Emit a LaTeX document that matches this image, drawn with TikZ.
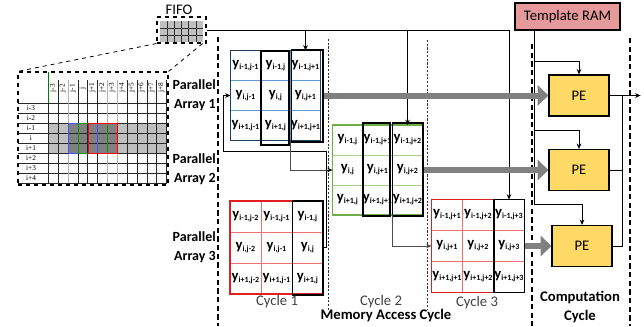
\documentclass[tikz,border=0pt]{standalone}
\usepackage{fontspec}
\setmainfont{Carlito}
\newfontfamily\tblfont{Liberation Serif}
\usepackage{xcolor}
\usepackage{tikz}
\usetikzlibrary{arrows.meta, positioning, calc}
\definecolor{ramred}{HTML}{E6999A}
\definecolor{peyellow}{HTML}{FFD966}
\definecolor{blueline}{HTML}{5B9BD5}
\definecolor{bluedark}{HTML}{1F3F5F}
\definecolor{greenline}{HTML}{A9D18E}
\definecolor{greendark}{HTML}{70AD47}
\definecolor{redline}{HTML}{EE7070}
\definecolor{reddark}{HTML}{E02020}
\newcommand{\ylab}[1]{\makebox[18pt][c]{{\fontsize{11}{11}\selectfont y}{\fontsize{6}{6}\selectfont\raisebox{-0.5ex}{#1}}}}
\tikzstyle{cellA} = [rectangle, draw=blueline, line width=0.5pt, inner sep=0pt, outer sep=0pt, minimum width=22.5pt, minimum height=22.5pt, font=\bfseries]
\tikzstyle{cellB} = [cellA, draw=greenline]
\tikzstyle{cellC} = [cellA, draw=redline, minimum width=23.25pt, minimum height=23.25pt]
\tikzstyle{window} = [draw=black, line width=0.9pt]
\tikzstyle{wire} = [draw=black, line width=0.75pt]
\tikzstyle{graywire} = [draw=gray!60!black, line width=0.75pt]
\tikzstyle{tip} = [-{Stealth[length=4pt,width=3.5pt]}]
\tikzstyle{fatarrow} = [draw=gray, line width=4.5pt, -{Triangle[length=8pt,width=15pt]}]
\tikzstyle{phaseline} = [draw=black, line width=1.1pt, dash pattern=on 4pt off 2.5pt]
\tikzstyle{cycleline} = [draw=black!80, line width=0.6pt, dash pattern=on 1.6pt off 1.2pt]
\tikzstyle{pebox} = [rectangle, draw=black, line width=0.9pt, fill=peyellow, minimum width=45pt, minimum height=30.75pt, font=\fontsize{11}{11}\selectfont]
\tikzstyle{rambox} = [rectangle, draw=black, line width=0.9pt, fill=ramred, minimum width=78.75pt, minimum height=20.25pt, font=\fontsize{11}{11}\selectfont]
\tikzstyle{arrlbl} = [anchor=east, align=right, inner sep=0pt, font=\fontsize{10.5}{14}\selectfont\bfseries]
\tikzstyle{cyclbl} = [font=\fontsize{11}{11}\selectfont, text=black!75]
\tikzstyle{rowlbl} = [inner sep=0pt, font=\tblfont\fontsize{5.5}{5.5}\selectfont]
\tikzstyle{collbl} = [rowlbl, rotate=90]
\tikzstyle{tblline} = [draw=black!85, line width=0.35pt]

\begin{document}
\begin{tikzpicture}[x=0.75pt, y=-0.75pt]
    \useasboundingbox (0,0) rectangle (644,326);

    % FIFO and the zoomed frame buffer
    \node[draw, dashed, line width=0.8pt, minimum width=36.75pt, minimum height=19.5pt, inner sep=0pt] (fifo) at (181.5,30) {};
    \node[font=\fontsize{11}{11}\selectfont] (fifolbl) at (179,10) {FIFO};
    \fill[gray!50] (160,21) rectangle (203,42);
    \foreach \i in {1,...,5}
        \draw[gray!40!black, line width=0.3pt] ({160+7.17*\i},21) -- ({160+7.17*\i},42);
    \draw[gray!40!black, line width=0.3pt] (160,28) -- (203,28) (160,35) -- (203,35);

    \node[draw, dashed, line width=0.8pt, minimum width=112.5pt, minimum height=84.75pt, inner sep=0pt] (tbl) at (93,128.5) {};
    \draw[dashed, line width=0.6pt] (fifo.south west) -- (tbl.north west);
    \draw[dashed, line width=0.6pt] ($(fifo.south east)+(-4,0)$) -- (tbl.north east);

    \fill[gray!50] (48.3,123) rectangle (166.5,153);
    \fill[gray] (68.3,123) rectangle (117.5,153);
    \foreach \y in {103,113,...,183}
        \draw[tblline] (18,\y) -- (166.5,\y);
    \foreach \k in {0,...,12}
        \draw[tblline] ({48.3+9.85*\k},80) -- ({48.3+9.85*\k},183);
    \draw[gray!60, line width=1pt] (68.3,80) -- (68.3,183) (107.7,80) -- (107.7,183) (117.5,80) -- (117.5,183);
    \draw[green!50!black, line width=0.3pt] (48.3,72) -- (48.3,103);
    \draw[blue!70, line width=0.6pt] (68.3,123) rectangle (97.85,153);
    \draw[green!60!black, line width=0.6pt] (78.15,123) rectangle (107.7,153);
    \draw[red, line width=0.6pt] (88,123) rectangle (117.55,153);
    \foreach \lab [count=\k from 0] in {i-3,i-2,i-1,i,i+1,i+2,i+3,i+4}
        \node[rowlbl] (ri\k) at (31,{108+10*\k}) {\lab};
    \foreach \lab [count=\k from 0] in {j-3,j-2,j-1,j,j+1,j+2,j+3,j+4,j+5,j+6,j+7,j+8}
        \node[collbl] (cj\k) at ({53.2+9.85*\k},88) {\lab};

    % Stage boundaries
    \draw[phaseline] (218,37) -- (218,326);
    \draw[phaseline] (532,44) -- (532,326);
    \draw[phaseline] (630,38) -- (630,326);
    \draw[cycleline] (328,39) -- (328,310);
    \draw[cycleline] (427,40) -- (427,310);

    % Parallel array 1, cycle 1
    \foreach \lab [count=\k from 0] in {{i-1,j-1},{i-1,j},{i-1,j+1},{i,j-1},{i,j},{i,j+1},{i+1,j-1},{i+1,j},{i+1,j+1}} {
        \pgfmathtruncatemacro\r{\k/3}
        \pgfmathtruncatemacro\c{\k-3*\r}
        \node[cellA] (a\r\c) at ({245.5+30*\c},{65.5+30*\r}) {\ylab{\lab}};
    }
    \draw[bluedark, line width=1.1pt] (a00.north west) rectangle (a22.south east);
    \draw[window] ($(a01.north west)+(0.5,0.5)$) rectangle ($(a21.south east)+(-1.5,4.5)$);
    \draw[window] ($(a02.north west)+(1,-0.5)$) rectangle ($(a22.south east)+(2.5,1.5)$);

    % Parallel array 2, cycle 2
    \foreach \lab [count=\k from 0] in {{i-1,j},{i-1,j+1},{i-1,j+2},{i,j},{i,j+1},{i,j+2},{i+1,j},{i+1,j+1},{i+1,j+2}} {
        \pgfmathtruncatemacro\r{\k/3}
        \pgfmathtruncatemacro\c{\k-3*\r}
        \node[cellB] (b\r\c) at ({347.5+30*\c},{140+30*\r}) {\ylab{\lab}};
    }
    \draw[greendark, line width=1.1pt] (b00.north west) rectangle (b22.south east);
    \draw[window] ($(b01.north west)+(0.5,-2)$) rectangle ($(b21.south east)+(-2.5,1)$);
    \draw[window] ($(b02.north west)+(0,-2)$) rectangle ($(b22.south east)+(0.5,1)$);

    % Parallel array 3, cycle 1
    \foreach \lab [count=\k from 0] in {{i-1,j-2},{i-1,j-1},{i-1,j},{i,j-2},{i,j-1},{i,j},{i+1,j-2},{i+1,j-1},{i+1,j}} {
        \pgfmathtruncatemacro\r{\k/3}
        \pgfmathtruncatemacro\c{\k-3*\r}
        \node[cellC] (c\r\c) at ({245.5+31*\c},{216.5+31*\r}) {\ylab{\lab}};
    }
    \draw[reddark, line width=0.9pt] (c00.north west) rectangle (c22.south east);
    \draw[window] ($(c02.north west)+(0.5,0)$) rectangle ($(c22.south east)+(0,1)$);

    % Parallel array 3, cycle 3
    \foreach \lab [count=\k from 0] in {{i-1,j+1},{i-1,j+2},{i-1,j+3},{i,j+1},{i,j+2},{i,j+3},{i+1,j+1},{i+1,j+2},{i+1,j+3}} {
        \pgfmathtruncatemacro\r{\k/3}
        \pgfmathtruncatemacro\c{\k-3*\r}
        \node[cellC] (d\r\c) at ({447+31*\c},{215+31*\r}) {\ylab{\lab}};
    }
    \draw[reddark, line width=0.9pt] (d00.north west) rectangle (d22.south east);
    \draw[window] ($(d02.north west)+(0.5,0)$) rectangle (d22.south east);

    % Labels
    \node[arrlbl] (par1) at (216,95.5) {Parallel\\Array 1};
    \node[arrlbl] (par2) at (216,169) {Parallel\\Array 2};
    \node[arrlbl] (par3) at (216,247) {Parallel\\Array 3};
    \node[cyclbl] (cyc1) at (277,302) {Cycle 1};
    \node[cyclbl] (cyc2) at (381,302) {Cycle 2};
    \node[cyclbl] (cyc3) at (477,303) {Cycle 3};
    \node[font=\fontsize{11}{11}\selectfont\bfseries] (memlbl) at (386,316) {Memory Access Cycle};
    \node[align=center, inner sep=0pt, font=\fontsize{11}{14}\selectfont\bfseries] (complbl) at (580,307) {Computation\\Cycle};

    % PEs and template memory
    \node[rambox] (ram) at (567.5,16.5) {Template RAM};
    \node[pebox] (pe1) at (579,95.5) {PE};
    \node[pebox] (pe2) at (579,170) {PE};
    \node[pebox] (pe3) at (582,246) {PE};

    % FIFO bus
    \draw[wire] (fifo.east) -- (fifo.east -| d02.north);
    \draw[wire, tip] (fifo.east -| a02.north) -- (a02.north);
    \draw[wire, tip] (fifo.east -| b02.north) -- (b02.north);
    \draw[wire, tip] (fifo.east -| d02.north) -- (d02.north);

    % Shift paths between arrays
    \coordinate (loopR) at (326.7,151);
    \coordinate (loopL) at (223,151);
    \draw[wire, tip] (c12.east) -| (loopR) -- (loopL) |- (a10.west);
    \draw[wire, tip] (loopR |- b10.west) -- (b10.west);
    \draw[graywire] (a21.south east) -- (a21.south east |- b10.west) -- (loopR |- b10.west);
    \draw[graywire, tip] (b21.south east) |- (d10.west);

    % Template distribution
    \coordinate (ramtap) at ($(ram.south west)+(20,0)$);
    \coordinate (tap1) at ($(pe1.north)+(0,-13)$);
    \coordinate (tap2) at ($(pe2.north)+(0,-18)$);
    \coordinate (tap3) at ($(pe3.north)+(0,-20)$);
    \draw[wire] (ramtap) -- (ramtap |- tap3);
    \draw[wire, tip] (ramtap |- tap1) -| (pe1.north);
    \draw[wire, tip] (ramtap |- tap2) -| (pe2.north);
    \draw[wire, tip] (ramtap |- tap3) -| (pe3.north);

    % Outputs
    \coordinate (outx) at ($(pe1.east)+(13,0)$);
    \draw[wire, tip] (pe1.east) -- ++(31,0);
    \draw[wire] (pe2.east) -| (outx);
    \draw[wire] (pe3.east) -| (outx);

    % Window data to PEs
    \draw[fatarrow] ($(a12.east)+(3,0)$) -- (pe1.west);
    \draw[fatarrow] ($(b12.east)+(1,0)$) -- (pe2.west);
    \draw[fatarrow] (d12.east) -- (pe3.west);
\end{tikzpicture}
\end{document}
